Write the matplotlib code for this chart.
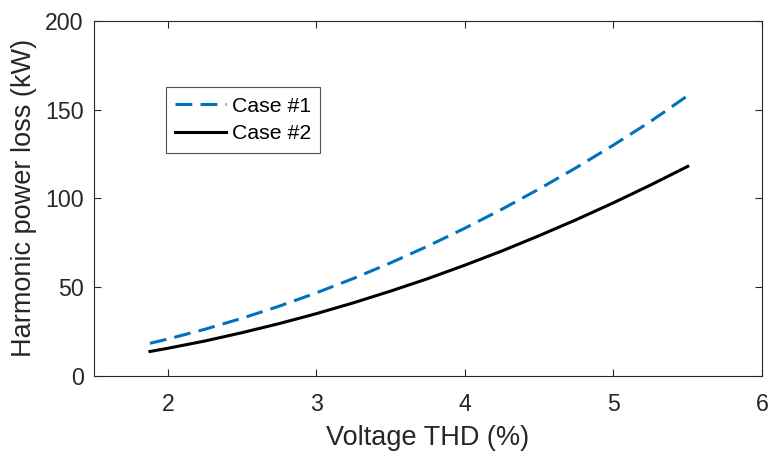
import matplotlib
matplotlib.use("Agg")
import matplotlib.pyplot as plt

plt.rcParams['font.family'] = ['Liberation Sans', 'DejaVu Sans']

# Harmonic power loss versus voltage THD
thd = [1.88, 2.0, 2.25, 2.5, 2.75, 3.0, 3.25, 3.5, 3.75, 4.0, 4.25, 4.5, 4.75, 5.0, 5.25, 5.5]
case1 = [18.4, 20.8, 26.3, 32.5, 39.3, 46.8, 54.9, 63.7, 73.1, 83.2, 93.9, 105.3, 117.3, 130.0, 143.3, 157.8]
case2 = [13.8, 15.6, 19.7, 24.4, 29.5, 35.1, 41.2, 47.8, 54.8, 62.4, 70.4, 79.0, 88.0, 97.5, 107.5, 118.0]

xticks = [2, 3, 4, 5, 6]
yticks = [0, 50, 100, 150, 200]

ink = '#262626'
blue = '#0072BD'

fig = plt.figure(figsize=(7.71, 4.55), dpi=100)
ax = fig.add_axes([93.5 / 771, (455 - 376) / 455, (762 - 93.5) / 771, (376 - 20.7) / 455])

ax.plot(thd, case1, color=blue, lw=2.2, ls=(0, (5.5, 2.7)), label='Case #1')
ax.plot(thd, case2, color='black', lw=2.2, label='Case #2')

ax.set_xlim(1.5, 6)
ax.set_ylim(0, 200)
ax.set_xticks(xticks)
ax.set_yticks(yticks)
ax.tick_params(direction='in', length=5, width=0.8, colors=ink, labelsize=16.7,
               top=True, right=True)
ax.tick_params(axis='x', pad=12)
ax.tick_params(axis='y', pad=7)
for s in ax.spines.values():
    s.set_color(ink)
    s.set_linewidth(0.8)

ax.set_xlabel('Voltage THD (%)', fontsize=19.5, color=ink, labelpad=7)
ax.set_ylabel('Harmonic power loss (kW)', fontsize=19.5, color=ink, labelpad=6)

leg = ax.legend(loc='upper left', bbox_to_anchor=(0.108, 0.8125), fontsize=15.3,
                frameon=True, fancybox=False, handlelength=2.4, handletextpad=0.25,
                borderpad=0.45, labelspacing=0.38, borderaxespad=0)
leg.get_frame().set_edgecolor(ink)
leg.get_frame().set_linewidth(0.8)
for t in leg.get_texts():
    t.set_color('black')

fig.savefig('out.png', dpi=100)
